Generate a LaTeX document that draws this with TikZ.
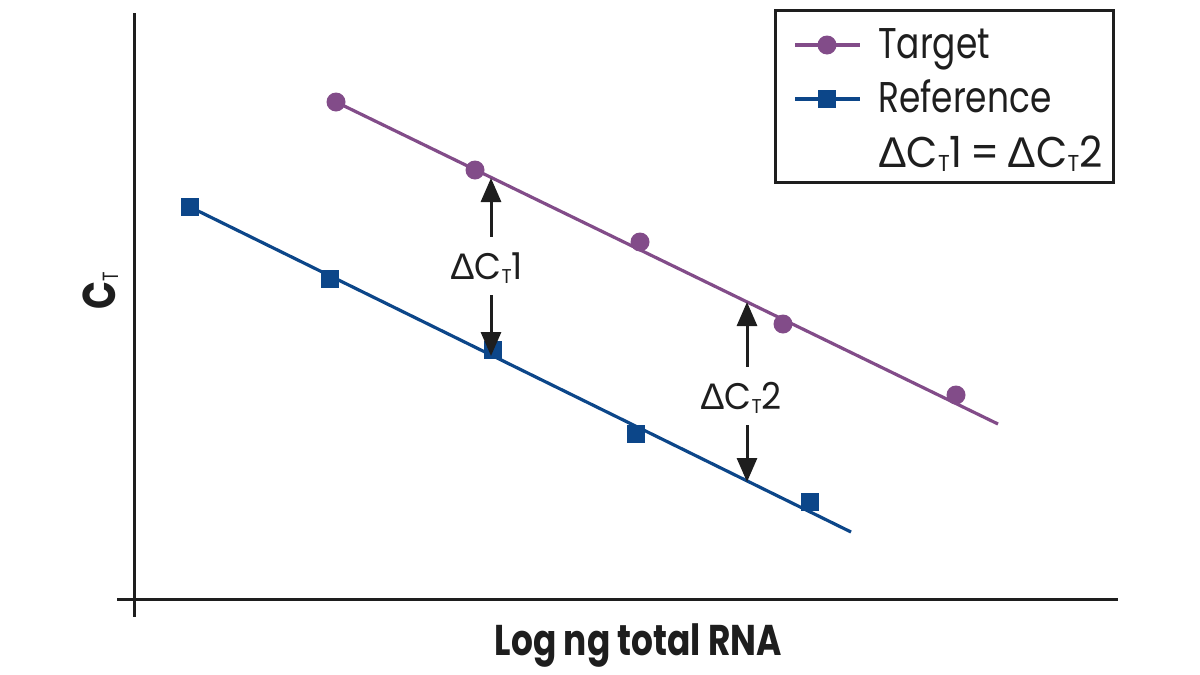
\documentclass[tikz,border=0pt]{standalone}
\usepackage{fontspec}
\setmainfont[FakeStretch=0.8]{Poppins}
\newfontfamily\dfont[FakeStretch=0.94]{Poppins}
\newfontfamily\gk[FakeStretch=1.0]{Liberation Sans}
\usetikzlibrary{arrows.meta,backgrounds}
\definecolor{tgt}{RGB}{130,76,137}
\definecolor{rfc}{RGB}{12,70,137}
\definecolor{ink}{RGB}{30,30,30}
\tikzset{
 axis/.style={line width=3pt, draw=ink},
 tline/.style={line width=3.2pt, draw=tgt},
 rline/.style={line width=3.2pt, draw=rfc},
 tpt/.style={circle, fill=tgt, minimum size=19pt, inner sep=0pt},
 rpt/.style={rectangle, fill=rfc, minimum size=18pt, inner sep=0pt},
 dlab/.style={font=\fontsize{37}{37}\selectfont\dfont, text height=26pt, text depth=0pt, inner xsep=0pt, inner ysep=16pt, anchor=base, text=ink},
 darrow/.style={line width=3pt, draw=ink, -{Triangle[length=24pt,width=20pt]}},
 legtext/.style={font=\fontsize{43}{43}\selectfont, anchor=base west, inner sep=0pt, text=ink},
 legbox/.style={draw=ink, line width=3pt, inner sep=0pt},
}
\newcommand\dct[2]{{\gk Δ}C\raisebox{-4pt}{\fontsize{#2}{#2}\selectfont T}#1}
\begin{document}
\begin{tikzpicture}[x=1pt,y=-1pt]
\useasboundingbox (0,0) rectangle (1200,675);
% axes
\coordinate (ytop) at (134,13);
\coordinate (ybot) at (134,617);
\coordinate (xl) at (117,599);
\coordinate (xr) at (1118,599);
\draw[axis] (ytop) -- (ybot);
\draw[axis] (xl) -- (xr);
% data points
\node[tpt] (t1) at (336,102) {};
\node[tpt] (t2) at (475,170) {};
\node[tpt] (t3) at (640,242) {};
\node[tpt] (t4) at (783,324) {};
\node[tpt] (t5) at (956,395) {};
\node[rpt] (r1) at (190,207) {};
\node[rpt] (r2) at (330,279) {};
\node[rpt] (r3) at (493,350) {};
\node[rpt] (r4) at (636,434) {};
\node[rpt] (r5) at (810,502) {};
\coordinate (tE) at (998,424);
\coordinate (rE) at (851,532);
\begin{scope}[on background layer]
\draw[tline] (t1.center) -- (tE);
\draw[rline] (r1.center) -- (rE);
\end{scope}
% delta arrows
\node[dlab] (l1) at (486.5,279) {\dct{1}{20}};
\coordinate (u1) at (491,178);
\coordinate (d1) at (491,356);
\draw[darrow] (l1.north -| u1) -- (u1);
\draw[darrow] (l1.south -| d1) -- (d1);
\node[dlab] (l2) at (741,409) {\dct{2}{20}};
\coordinate (u2) at (747,302);
\coordinate (d2) at (747,482);
\draw[darrow] (l2.north -| u2) -- (u2);
\draw[darrow] (l2.south -| d2) -- (d2);
% legend
\node[legbox, minimum width=338pt, minimum height=172pt] (leg) at (944,96) {};
\coordinate (lta) at (795,45);
\coordinate (ltb) at (860,45);
\draw[tline] (lta) -- (ltb);
\node[tpt] (lt) at (827,45) {};
\node[legtext] (ltt) at (878,58) {Target};
\coordinate (lra) at (795,99);
\coordinate (lrb) at (860,99);
\draw[rline] (lra) -- (lrb);
\node[rpt] (lr) at (827,99) {};
\node[legtext] (lrt) at (878,112) {Reference};
\node[legtext] (leq) at (878,167) {\dfont\dct{1}{23}\hspace{-3pt} = \hspace{-3pt}\dct{2}{23}};
% axis labels
\node[font=\fontsize{46}{46}\selectfont\bfseries, rotate=90, anchor=base, text=ink, inner sep=0pt] (ylab) at (115,291) {C\raisebox{-3pt}{\mdseries\fontsize{22}{22}\selectfont T}};
\node[font=\fontsize{43}{43}\selectfont\bfseries, anchor=base, text=ink, inner sep=0pt] (xlab) at (638.5,655) {Log ng total RNA};
\end{tikzpicture}
\end{document}
